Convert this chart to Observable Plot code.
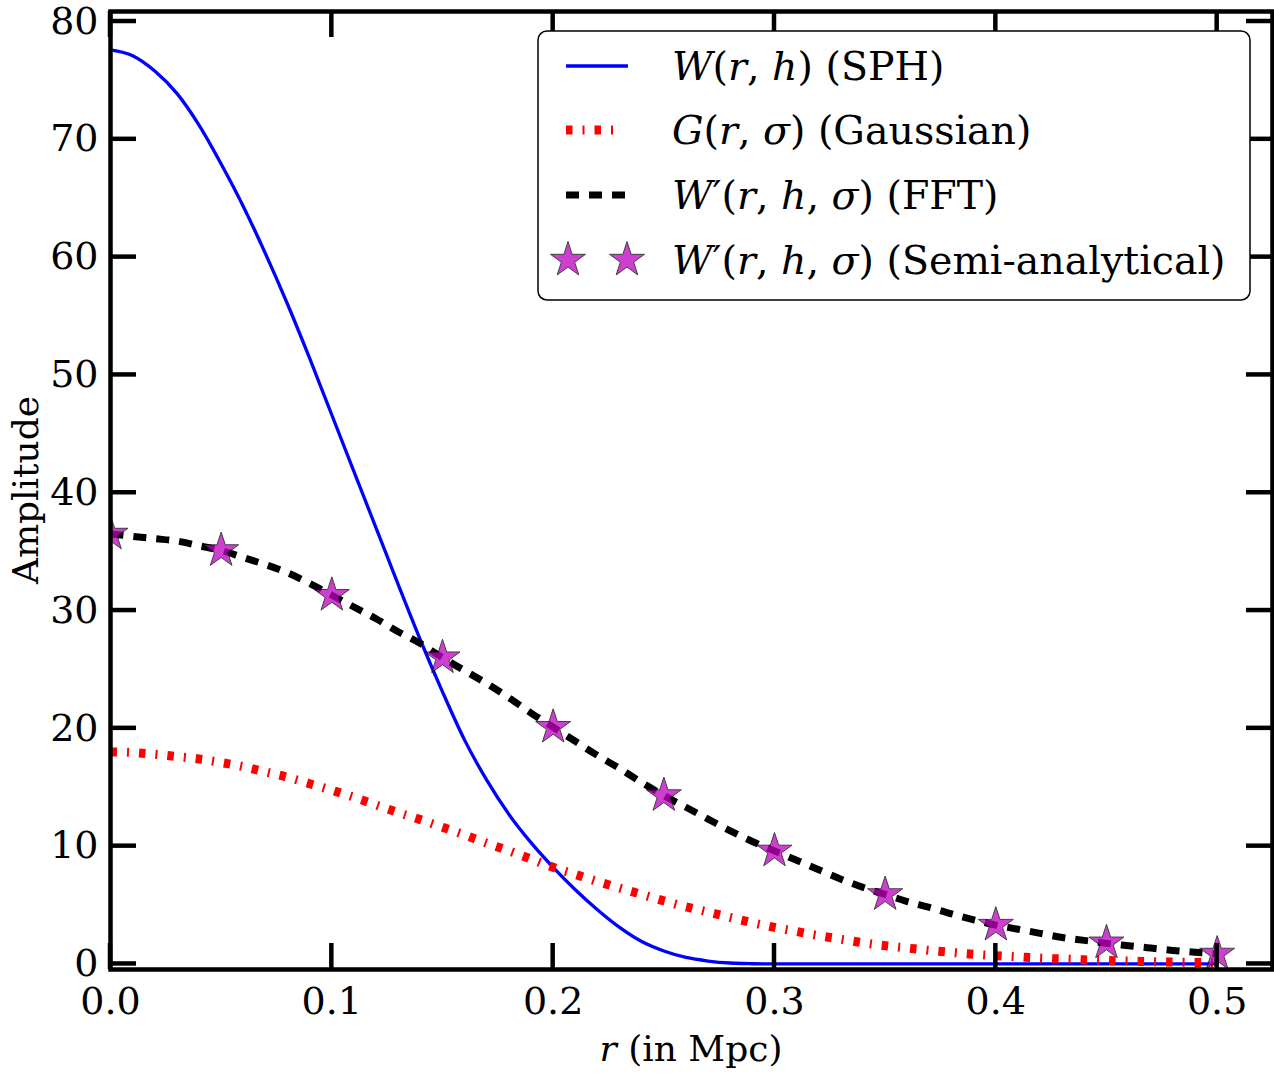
<!DOCTYPE html>
<html>
<head>
<meta charset="utf-8">
<script src="https://cdn.jsdelivr.net/npm/d3@7"></script>
<script src="https://cdn.jsdelivr.net/npm/@observablehq/plot@0.6"></script>
<style>
  html, body { margin: 0; padding: 0; background: #fff; }
  #chart { width: 1274px; height: 1075px; }
</style>
</head>
<body>
<div id="chart"></div>
<script>
// Radius samples (Mpc) for the smooth curves
const rGrid = [0.00, 0.01, 0.02, 0.03, 0.04, 0.05, 0.06, 0.07, 0.08, 0.09,
               0.10, 0.11, 0.12, 0.13, 0.14, 0.15, 0.16, 0.17, 0.18, 0.19,
               0.20, 0.21, 0.22, 0.23, 0.24, 0.25, 0.26, 0.27, 0.28, 0.29,
               0.30, 0.31, 0.32, 0.33, 0.34, 0.35, 0.36, 0.37, 0.38, 0.39,
               0.40, 0.41, 0.42, 0.43, 0.44, 0.45, 0.46, 0.47, 0.48, 0.49, 0.50];

// W(r,h): SPH kernel
const sphKernel = [77.6, 77.1, 75.8, 73.9, 71.2, 67.9, 64.3, 60.3, 56.0, 51.4,
                   46.6, 41.8, 37.0, 32.2, 27.5, 23.1, 19.0, 15.6, 12.7, 10.3,
                   8.2, 6.3, 4.6, 3.1, 1.9, 1.1, 0.55, 0.25, 0.08, 0.02,
                   0, 0, 0, 0, 0, 0, 0, 0, 0, 0,
                   0, 0, 0, 0, 0, 0, 0, 0, 0, 0, 0];

// G(r,sigma): Gaussian smoothing
const gaussian = [18.0, 17.95, 17.8, 17.6, 17.4, 17.1, 16.75, 16.3, 15.85, 15.3,
                  14.75, 14.15, 13.5, 12.85, 12.25, 11.6, 10.95, 10.25, 9.6, 8.9,
                  8.2, 7.6, 7.0, 6.45, 5.9, 5.35, 4.85, 4.4, 3.95, 3.5,
                  3.1, 2.75, 2.4, 2.1, 1.8, 1.55, 1.35, 1.15, 0.98, 0.83,
                  0.7, 0.6, 0.5, 0.42, 0.35, 0.29, 0.24, 0.2, 0.16, 0.13, 0.1];

// W'(r,h,sigma): FFT convolution
const fftKernel = [36.5, 36.3, 36.1, 35.9, 35.5, 35.1, 34.5, 33.9, 33.2, 32.3,
                   31.3, 30.3, 29.3, 28.2, 27.2, 26.0, 24.9, 23.8, 22.6, 21.3,
                   20.1, 18.9, 17.7, 16.6, 15.4, 14.3, 13.3, 12.3, 11.3, 10.4,
                   9.6, 8.8, 8.0, 7.2, 6.5, 5.9, 5.3, 4.8, 4.25, 3.75,
                   3.3, 2.95, 2.6, 2.25, 2.0, 1.75, 1.55, 1.35, 1.15, 1.0, 0.85];

// W'(r,h,sigma): semi-analytical points
const rSemi = [0.00, 0.05, 0.10, 0.15, 0.20, 0.25, 0.30, 0.35, 0.40, 0.45, 0.50];
const semiAnalytical = [36.5, 35.1, 31.3, 26.0, 20.1, 14.3, 9.6, 5.9, 3.3, 1.8, 0.85];

const xTicks = [0, 0.1, 0.2, 0.3, 0.4, 0.5];
const yTicks = [0, 10, 20, 30, 40, 50, 60, 70, 80];

// Legend entries: [text, italic]
const legendLabels = [
  [["W", 1], ["(", 0], ["r", 1], [", ", 0], ["h", 1], [") (SPH)", 0]],
  [["G", 1], ["(", 0], ["r", 1], [", ", 0], ["σ", 1], [") (Gaussian)", 0]],
  [["W", 1], ["′(", 0], ["r", 1], [", ", 0], ["h", 1], [", ", 0], ["σ", 1], [") (FFT)", 0]],
  [["W", 1], ["′(", 0], ["r", 1], [", ", 0], ["h", 1], [", ", 0], ["σ", 1], [") (Semi-analytical)", 0]]
];

const SERIF = "'DejaVu Serif', serif";
const styles = {
  sph:   {stroke: "#0000ff", strokeWidth: 3.3},
  gauss: {stroke: "#ff0000", strokeWidth: 9, strokeDasharray: "6.5,10,2,10", strokeLinecap: "butt"},
  fft:   {stroke: "#000000", strokeWidth: 7, strokeDasharray: "13,10", strokeLinecap: "butt"},
  star:  {fill: "#bf00bf", stroke: "#000000", strokeWidth: 1, opacity: 0.75, r: 11}
};

const curves = rGrid.map((r, i) => ({r, sph: sphKernel[i], gauss: gaussian[i], fft: fftKernel[i]}));
const stars = rSemi.map((r, i) => ({r, v: semiAnalytical[i]}));

const chart = Plot.plot({
  width: 1274,
  height: 1075,
  marginLeft: 110,
  marginRight: 2,
  marginTop: 11,
  marginBottom: 106,
  style: {fontFamily: SERIF, fontSize: "38px", background: "white", color: "black"},
  x: {domain: [0, 0.525]},
  y: {domain: [-0.47, 80.85]},
  marks: [
    Plot.line(curves, {x: "r", y: "sph", curve: "monotone-x", ...styles.sph}),
    Plot.line(curves, {x: "r", y: "gauss", curve: "monotone-x", ...styles.gauss}),
    Plot.line(curves, {x: "r", y: "fft", curve: "monotone-x", ...styles.fft}),
    Plot.dot(stars, {x: "r", y: "v", symbol: "star", ...styles.star, clip: true}),
    Plot.axisX(xTicks, {tickSize: 0, tickPadding: 18, tickFormat: d3.format(".1f"), fontSize: 38, label: null}),
    Plot.axisY(yTicks, {tickSize: 0, tickPadding: 12, fontSize: 38, label: null}),
    Plot.frame({stroke: "black", strokeWidth: 4.5})
  ]
});

document.getElementById("chart").appendChild(chart);

const svg = d3.select(chart);
const sx = chart.scale("x");
const sy = chart.scale("y");
const [xL, xR] = sx.range;
const [yB, yT] = sy.range;
const tickLen = 26;

// Inward ticks on all four sides
const ticks = svg.append("g").attr("stroke", "black").attr("stroke-width", 4.5);
for (const t of xTicks) {
  const px = sx.apply(t);
  ticks.append("line").attr("x1", px).attr("x2", px).attr("y1", yB).attr("y2", yB - tickLen);
  ticks.append("line").attr("x1", px).attr("x2", px).attr("y1", yT).attr("y2", yT + tickLen);
}
for (const t of yTicks) {
  const py = sy.apply(t);
  ticks.append("line").attr("y1", py).attr("y2", py).attr("x1", xL).attr("x2", xL + tickLen);
  ticks.append("line").attr("y1", py).attr("y2", py).attr("x1", xR).attr("x2", xR - tickLen);
}

// Axis titles
svg.append("text")
  .attr("transform", `translate(25,${(yB + yT) / 2}) rotate(-90)`)
  .attr("text-anchor", "middle")
  .attr("dominant-baseline", "central")
  .attr("font-family", SERIF)
  .attr("font-size", 36)
  .attr("fill", "black")
  .text("Amplitude");

const xTitle = svg.append("text")
  .attr("x", (xL + xR) / 2)
  .attr("y", 1061)
  .attr("text-anchor", "middle")
  .attr("font-family", SERIF)
  .attr("font-size", 36)
  .attr("fill", "black");
xTitle.append("tspan").attr("font-style", "italic").text("r");
xTitle.append("tspan").text(" (in Mpc)");

// Legend
const legend = svg.append("g");
legend.append("rect")
  .attr("x", 538).attr("y", 31).attr("width", 712).attr("height", 269)
  .attr("rx", 9).attr("ry", 9)
  .attr("fill", "white").attr("stroke", "black").attr("stroke-width", 1.5);

const rowY = [66, 130, 195, 260];
const h0 = 566, h1 = 628;

function handleLine(y, s, x1 = h1) {
  legend.append("line")
    .attr("x1", h0).attr("x2", x1).attr("y1", y).attr("y2", y)
    .attr("stroke", s.stroke).attr("stroke-width", s.strokeWidth)
    .attr("stroke-dasharray", s.strokeDasharray || null)
    .attr("stroke-linecap", s.strokeLinecap || "butt");
}
handleLine(rowY[0], styles.sph);
handleLine(rowY[1], styles.gauss, 616);
handleLine(rowY[2], styles.fft);
const starPath = d3.symbol(d3.symbolStar, Math.PI * styles.star.r * styles.star.r)();
for (const cx of [568, 627]) {
  legend.append("path")
    .attr("d", starPath)
    .attr("transform", `translate(${cx},${rowY[3]})`)
    .attr("fill", styles.star.fill).attr("stroke", styles.star.stroke)
    .attr("stroke-width", styles.star.strokeWidth).attr("opacity", styles.star.opacity);
}

legendLabels.forEach((parts, i) => {
  const t = legend.append("text")
    .attr("x", 672).attr("y", rowY[i] + 14)
    .attr("text-anchor", "start")
    .attr("font-family", SERIF).attr("font-size", 39.5).attr("fill", "black")
    .attr("xml:space", "preserve");
  for (const [s, it] of parts) {
    t.append("tspan").attr("font-style", it ? "italic" : null).text(s);
  }
});
</script>
</body>
</html>
